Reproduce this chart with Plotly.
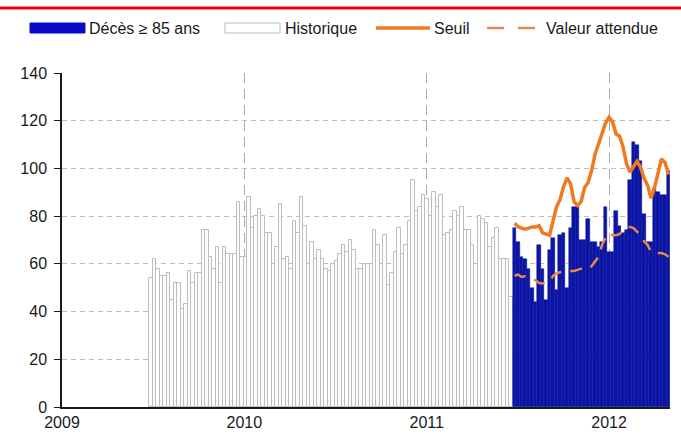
import plotly.graph_objects as go
import pandas as pd

# ---------------- data ----------------
hist_start = "2009-06-28"
historique = [54, 62, 58, 55, 55, 56, 45, 52, 52, 41,
              43, 57, 52, 56, 56, 74, 74, 63, 58, 67,
              52, 67, 64, 64, 64, 86, 63, 63, 88, 75,
              80, 83, 80, 73, 73, 60, 67, 85, 62, 63,
              58, 78, 73, 88, 76, 60, 69, 62, 66, 62,
              58, 57, 60, 61, 64, 68, 65, 70, 66, 58,
              58, 60, 60, 60, 74, 68, 60, 72, 51, 56,
              65, 75, 64, 68, 78, 95, 82, 84, 89, 87,
              80, 90, 84, 89, 72, 73, 74, 82, 80, 84,
              74, 74, 68, 60, 80, 79, 77, 67, 71, 75,
              62, 62, 62, 46]

cur_start = "2011-06-26"
deces_85 = [75, 69, 63, 62, 58, 50, 44, 68, 58, 45,
            66, 71, 49, 72, 73, 50, 75, 84, 84, 70,
            70, 79, 69, 69, 67, 69, 84, 65, 65, 82,
            76, 73, 74, 95, 111, 110, 103, 81, 69, 69,
            92, 90, 89, 89, 99]

seuil = [77, 75.6, 75, 74.5, 75, 75.5, 75.5, 76, 73, 72.3,
         72, 78, 84, 87, 92.5, 96, 93.5, 86, 84.5, 86,
         92, 94, 99, 106, 110, 114, 119, 121.5, 119.5, 114.5,
         113.5, 109, 102, 98.5, 100.5, 103, 100.5, 96, 93, 87.5,
         92, 98.6, 104, 102.5, 97.5]

valeur_attendue = [55, 55.5, 54.5, 54.8, 54.5, 54, 53, 52, 51.8, 52,
                   52.5, 55, 56, 56.5, 56.5, 56.8, 57, 57, 57.5, 58,
                   58, 58, 59, 61, 63, 68, 71, 73, 72, 72,
                   72.5, 74, 75.5, 75.5, 75, 73.5, 72, 69.5, 68, 65,
                   64.5, 64.5, 64.5, 64, 63]

year_ticks = ["2009-01-01", "2010-01-01", "2011-01-01", "2012-01-01"]
year_labels = ["2009", "2010", "2011", "2012"]
y_ticks = [0, 20, 40, 60, 80, 100, 120, 140]

legend_labels = ["Décès ≥ 85 ans", "Historique", "Seuil", "Valeur attendue"]

# ---------------- figure ----------------
hist_x = pd.date_range(hist_start, periods=len(historique), freq="7D")
cur_x = pd.date_range(cur_start, periods=len(deces_85), freq="7D")
WEEK_MS = 7 * 24 * 3600 * 1000

BLUE = "#0B14A3"
ORANGE = "#F07A22"
ORANGE_D = "#E8874E"
FONT = "Liberation Sans, Arial, sans-serif"

fig = go.Figure()
fig.add_trace(go.Bar(x=hist_x, y=historique, width=WEEK_MS,
                     marker=dict(color="#FDFDFD", line=dict(color="#BDBDBD", width=1)),
                     name=legend_labels[1], showlegend=False))
fig.add_trace(go.Bar(x=cur_x, y=deces_85, width=WEEK_MS,
                     marker=dict(color=BLUE, line=dict(color=BLUE, width=0.5)),
                     name=legend_labels[0], showlegend=False))
fig.add_trace(go.Scatter(x=cur_x, y=seuil, mode="lines",
                         line=dict(color=ORANGE, width=3.5),
                         name=legend_labels[2], showlegend=False))
fig.add_trace(go.Scatter(x=cur_x, y=valeur_attendue, mode="lines",
                         line=dict(color=ORANGE_D, width=2.5, dash="12px,9px"),
                         name=legend_labels[3], showlegend=False))

W, H = 681, 440
ML, MR, MT, MB = 62, 11, 73, 33
PW, PH = W - ML - MR, H - MT - MB


def px(x):
    return (x - ML) / PW


def py(y):
    return (H - MB - y) / PH


shapes = [
    # red top rule
    dict(type="line", xref="paper", yref="paper", x0=px(0), x1=px(W), y0=py(8), y1=py(8),
         line=dict(color="#E5000A", width=3)),
    # legend swatches
    dict(type="rect", xref="paper", yref="paper", x0=px(30), x1=px(85), y0=py(23), y1=py(33),
         fillcolor="#0A0AC8", line=dict(color="#0A0AC8", width=1)),
    dict(type="rect", xref="paper", yref="paper", x0=px(225), x1=px(280), y0=py(23), y1=py(33),
         fillcolor="#FFFFFF", line=dict(color="#BDBDBD", width=1)),
    dict(type="line", xref="paper", yref="paper", x0=px(376), x1=px(430), y0=py(28), y1=py(28),
         line=dict(color=ORANGE, width=3.5)),
    dict(type="line", xref="paper", yref="paper", x0=px(487), x1=px(536), y0=py(28), y1=py(28),
         line=dict(color=ORANGE_D, width=2.5, dash="17px,14px")),
]

annotations = []
for lbl, xs in zip(legend_labels, [87, 283, 432, 544]):
    annotations.append(dict(text=lbl, xref="paper", yref="paper", x=px(xs), y=py(28),
                            xanchor="left", yanchor="middle", showarrow=False,
                            font=dict(family=FONT, size=16, color="#1A1A1A")))

fig.update_layout(
    width=W, height=H,
    margin=dict(l=ML, r=MR, t=MT, b=MB, autoexpand=False),
    paper_bgcolor="white", plot_bgcolor="white",
    barmode="overlay", bargap=0,
    showlegend=False,
    font=dict(family=FONT, size=16, color="#1A1A1A"),
    shapes=shapes, annotations=annotations,
    xaxis=dict(type="date", range=["2009-01-01", "2012-05-02"],
               tickvals=year_ticks, ticktext=year_labels,
               showline=True, linecolor="#1A1A1A", linewidth=1.5,
               ticks="", showgrid=True, gridcolor="#ABABAB", griddash="10px,6px",
               gridwidth=1, zeroline=False, automargin=False,
               tickfont=dict(family=FONT, size=16, color="#1A1A1A")),
    yaxis=dict(range=[0, 140], tickvals=y_ticks,
               showline=True, linecolor="#1A1A1A", linewidth=1.5,
               ticks="outside", ticklen=6, tickcolor="#1A1A1A", tickwidth=1,
               showgrid=True, gridcolor="#BDBDBD", griddash="5px,4px", gridwidth=1,
               zeroline=False, ticklabelstandoff=4, automargin=False,
               tickfont=dict(family=FONT, size=16, color="#1A1A1A")),
)

fig.write_html("out.html", config={"displayModeBar": False},
               post_script="document.body.style.margin='0';document.body.style.padding='0';")
